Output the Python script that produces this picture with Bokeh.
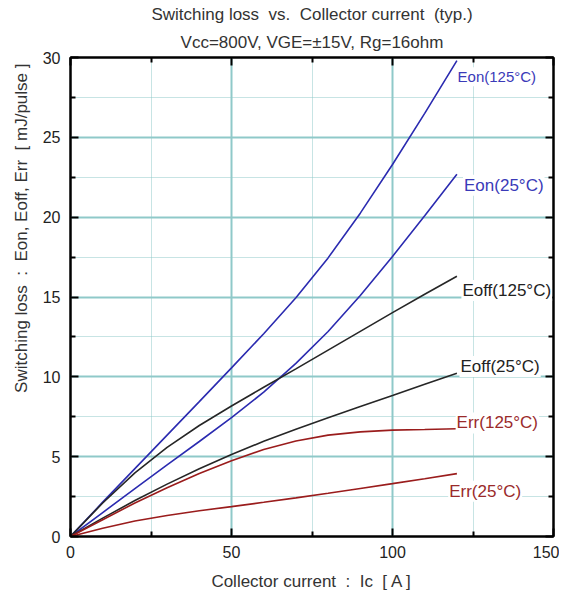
import math
from bokeh.plotting import figure
from bokeh.models import Range1d, FixedTicker, LinearAxis, Label, Title
from bokeh.embed import file_html
from bokeh.resources import INLINE

# ---- data ----
ic = [0, 10, 20, 30, 40, 50, 60, 70, 80, 90, 100, 110, 120]
eon_125 = [0, 2.15, 4.25, 6.35, 8.45, 10.56, 12.7, 14.95, 17.45, 20.25, 23.3, 26.5, 29.8]
eon_25 = [0, 1.5, 3.0, 4.48, 5.95, 7.44, 9.04, 10.84, 12.84, 15.09, 17.54, 20.09, 22.69]
eoff_125 = [0, 2.1, 3.98, 5.58, 6.95, 8.17, 9.35, 10.5, 11.67, 12.85, 14.02, 15.17, 16.3]
eoff_25 = [0, 1.15, 2.25, 3.28, 4.24, 5.14, 5.96, 6.72, 7.44, 8.14, 8.83, 9.53, 10.23]
err_125 = [0, 1.05, 2.1, 3.05, 3.95, 4.75, 5.45, 5.98, 6.35, 6.55, 6.66, 6.7, 6.75]
err_25 = [0, 0.52, 0.97, 1.32, 1.61, 1.87, 2.14, 2.42, 2.71, 3.01, 3.31, 3.62, 3.94]

x_major = [0, 50, 100, 150]
x_minor = [25, 75, 125]
y_major = [0, 5, 10, 15, 20, 25, 30]
y_minor = [2.5, 7.5, 12.5, 17.5, 22.5, 27.5]

NB = "\u00a0"
title1 = f"Switching loss {NB}vs. {NB}Collector current {NB}(typ.)"
title2 = "Vcc=800V, VGE=\u00b115V, Rg=16ohm"
xlabel = f"Collector current {NB}: {NB}Ic {NB}[ A ]"
ylabel = f"Switching loss {NB}: {NB}Eon, Eoff, Err {NB}[ mJ/pulse ]"

series = [
    (eon_125, "#2b2bb0", "Eon(125\u00b0C)", 119.9, 28.8, "15px", "#3a3ab8"),
    (eon_25, "#2b2bb0", "Eon(25\u00b0C)", 121.9, 22.0, "17px", "#3a3ab8"),
    (eoff_125, "#262626", "Eoff(125\u00b0C)", 121.4, 15.4, "17px", "#222222"),
    (eoff_25, "#262626", "Eoff(25\u00b0C)", 120.8, 10.64, "17px", "#222222"),
    (err_125, "#9a1c1c", "Err(125\u00b0C)", 119.6, 7.11, "17px", "#9a2a2a"),
    (err_25, "#9a1c1c", "Err(25\u00b0C)", 117.3, 2.84, "17px", "#9a2a2a"),
]

FONT = "Liberation Sans"
GRID = "#8fc9c9"
TXT = "#333333"

p = figure(width=559, height=593, output_backend="svg", toolbar_location=None,
           x_range=Range1d(0, 150), y_range=Range1d(0, 30))
p.min_border_left = 70
p.min_border_right = 6
p.min_border_top = 57
p.min_border_bottom = 55
p.outline_line_color = "black"
p.outline_line_width = 2
p.background_fill_color = "white"
p.border_fill_color = "white"

xt = FixedTicker(ticks=x_major, minor_ticks=x_minor)
yt = FixedTicker(ticks=y_major, minor_ticks=y_minor)

def style_axis(ax, ticker, show_labels):
    ax.ticker = ticker
    ax.axis_line_color = "black"
    ax.axis_line_width = 2
    ax.major_tick_in = 8
    ax.major_tick_out = 0
    ax.minor_tick_in = 5
    ax.minor_tick_out = 0
    ax.major_tick_line_color = "black"
    ax.major_tick_line_width = 2
    ax.minor_tick_line_color = "black"
    ax.minor_tick_line_width = 2
    if show_labels:
        ax.major_label_text_font = FONT
        ax.major_label_text_font_size = "16px"
        ax.major_label_text_color = "#222222"
        ax.major_label_standoff = 9
    else:
        ax.major_label_text_font_size = "0px"
        ax.major_label_text_color = None
        ax.major_label_standoff = 0

style_axis(p.xaxis[0], xt, True)
style_axis(p.yaxis[0], yt, True)
p.yaxis[0].major_label_standoff = 10
p.xaxis[0].axis_label = xlabel
p.xaxis[0].axis_label_text_font = FONT
p.xaxis[0].axis_label_text_font_size = "17px"
p.xaxis[0].axis_label_text_font_style = "normal"
p.xaxis[0].axis_label_text_color = TXT
p.xaxis[0].axis_label_standoff = 11

top = LinearAxis()
style_axis(top, FixedTicker(ticks=x_major, minor_ticks=x_minor), False)
p.add_layout(top, "above")
right = LinearAxis()
style_axis(right, FixedTicker(ticks=y_major, minor_ticks=y_minor), False)
p.add_layout(right, "right")

for g in (p.xgrid[0], p.ygrid[0]):
    g.grid_line_color = GRID
    g.grid_line_width = 2
    g.minor_grid_line_color = GRID
    g.minor_grid_line_width = 1
    g.minor_grid_line_dash = "1 1"
p.xgrid[0].ticker = xt
p.ygrid[0].ticker = yt

for ys, color, name, lx, ly, fs, tc in series:
    p.line(ic, ys, line_color=color, line_width=1.6)

for ys, color, name, lx, ly, fs, tc in series:
    p.add_layout(Label(x=lx, y=ly, text=name, text_font=FONT, text_font_size=fs,
                       text_color=tc, text_align="left", text_baseline="middle",
                       background_fill_color="white", padding=1))

# titles
p.title.text = title1
p.title.text_font = FONT
p.title.text_font_size = "17px"
p.title.text_font_style = "normal"
p.title.text_color = TXT
p.title.align = "center"
p.title.standoff = 1
p.add_layout(Title(text=title2, text_font=FONT, text_font_size="17px",
                   text_font_style="normal", text_color=TXT, align="center",
                   standoff=12), "above")

# y-axis label (placed toward the top as in the reference)
p.add_layout(Title(text=ylabel, text_font=FONT, text_font_size="17px",
                   text_font_style="normal", text_color=TXT, align="right",
                   offset=6, standoff=18), "left")

open("out.html", "w").write(file_html(p, INLINE))
